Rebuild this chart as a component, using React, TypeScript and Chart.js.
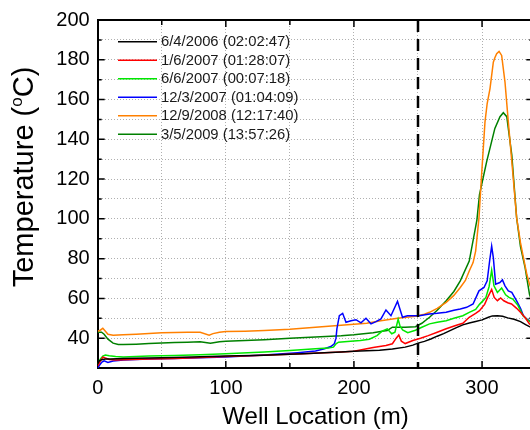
import React, { useEffect, useRef } from 'react';
import { Chart, registerables } from 'chart.js';

Chart.register(...registerables);

const FONT = '"Liberation Sans", Arial, Helvetica, sans-serif';

const seriesLabels = [
  '6/4/2006 (02:02:47)',
  '1/6/2007 (01:28:07)',
  '6/6/2007 (00:07:18)',
  '12/3/2007 (01:04:09)',
  '12/9/2008 (12:17:40)',
  '3/5/2009 (13:57:26)',
];
const seriesColors = ['#000000', '#ff0000', '#00e800', '#0000ff', '#ff8000', '#008000'];

const xTickLabels = [0, 100, 200, 300];
const yTickLabels = [40, 60, 80, 100, 120, 140, 160, 180, 200];
const markerLocation = 250;
const yTitleParts = ['Temperature (', 'o', 'C)'];
const xTitle = 'Well Location (m)';

const blackX = [0, 1, 3, 6, 10, 20, 40, 60, 80, 100, 130, 160, 190, 200, 210, 220, 230, 240, 246, 250, 255, 260, 265, 270, 275, 280, 285, 290, 295, 300, 305, 308, 312, 316, 320, 325, 330, 334, 337, 340];
const blackY = [27, 28.5, 29.2, 29.5, 29.5, 29.8, 30, 30.3, 30.6, 31, 31.4, 32.2, 33, 33.4, 33.7, 33.9, 34.5, 35.5, 36.5, 37.5, 38.4, 39.6, 41, 42.3, 43.8, 45.3, 46.7, 47.6, 48.4, 49.2, 50.5, 51.2, 51.3, 51, 50.2, 49.5, 48.3, 46.8, 45.8, 45];

const redX = [0, 2, 4, 6, 9, 14, 20, 40, 60, 80, 100, 130, 160, 190, 200, 215, 225, 230, 233, 235, 237, 240, 246, 252, 258, 265, 272, 280, 285, 290, 295, 298, 302, 305, 307.5, 309.5, 312, 314.5, 317, 320, 323, 327, 330, 334, 337, 340];
const redY = [26, 28.5, 30.5, 30, 29.3, 29, 29.2, 29.5, 29.8, 30.3, 30.8, 31.4, 32.2, 33, 33.4, 35.3, 36.3, 37.2, 40, 41.6, 38.5, 37.3, 38.8, 40, 41.3, 43, 44.7, 46.5, 47.5, 50.5, 52.5, 53.8, 57, 61.3, 64.5, 60.5, 58.8, 60.2, 58.8, 57.8, 57.2, 55, 53, 50, 47.2, 46];

const greenX = [0, 2, 4, 6, 9, 14, 20, 40, 60, 80, 100, 130, 150, 170, 180, 184, 186, 188, 195, 205, 212, 218, 222, 226, 229.5, 232, 234.5, 236, 238, 242, 248, 253, 259, 265, 272, 278, 285, 290, 295, 298, 301, 303, 305.5, 307.5, 309.3, 312, 315.3, 318.4, 321, 324, 328, 332, 335, 338, 340];
const greenY = [27, 29.5, 31, 31.5, 31.2, 30.8, 30.5, 31, 31.3, 31.7, 32.2, 33, 33.8, 34.7, 35, 35.5, 37.2, 38, 38.3, 38.8, 39.5, 41.3, 43.5, 44.7, 42.2, 43, 49.5, 46, 44.2, 42.8, 44, 45.5, 47.2, 48, 48.8, 50, 51.3, 53, 54.5, 57, 59, 60.5, 66, 74.2, 66.3, 63, 65.2, 61.8, 60.5, 59.7, 56.5, 51.3, 49.5, 48, 47.5];

const blueX = [0, 1.5, 3, 5, 8, 12, 20, 40, 60, 80, 100, 130, 156, 170, 177, 182, 184.7, 186, 186.7, 188.6, 191.2, 193.8, 197.7, 201.6, 205.5, 209.4, 213.3, 217.2, 221.1, 225, 228.9, 234, 237.9, 241.7, 245.6, 251, 259, 265, 272, 278, 283, 288, 293, 297.6, 301.5, 304, 305.9, 307.5, 308.8, 310.6, 313.9, 315.9, 317.9, 320.5, 323.2, 327, 330, 332.3, 335, 337, 340];
const blueY = [25, 26.5, 27.8, 28.6, 27.8, 28.5, 29, 29.5, 29.8, 30.1, 30.5, 31.5, 32.7, 33.5, 34.7, 35.8, 37.2, 40, 44.7, 51.3, 52.5, 48, 48.8, 49.3, 47.7, 50, 47.2, 48.3, 49.7, 54.2, 51.3, 58.5, 50.5, 51.3, 51.3, 51.3, 52.2, 52.5, 53, 54, 54.7, 55.5, 57.2, 63.8, 65.5, 68.8, 78.8, 86.3, 80.5, 67.2, 68, 69.3, 66.3, 63.8, 63, 58.8, 55, 51.3, 49.5, 48.8, 48];

const orangeX = [0, 2, 4, 6, 8, 12, 20, 30, 40, 50, 60, 70, 80, 87, 90, 95, 100, 115, 130, 150, 170, 185, 200, 210, 221, 234, 248, 255, 259, 265, 272, 278, 283, 287, 290, 293, 295, 297.6, 299.8, 302.3, 304, 306.2, 308.8, 310, 311.4, 313.3, 315.3, 317.9, 320.5, 323.9, 327, 330, 332.3, 335, 337, 340];
const orangeY = [43.5, 44, 45, 43.5, 42, 41.5, 41.7, 42, 42.3, 42.7, 42.8, 43, 43, 41.5, 42.3, 43, 43.3, 43.5, 43.9, 44.5, 45.5, 46.2, 47, 47.5, 48.8, 50, 51, 52, 53, 55, 58, 61.5, 65.5, 69, 73.8, 78, 83.8, 100.5, 123.8, 148.8, 158, 165.5, 178.8, 181, 183, 184.2, 182.2, 168.8, 148.8, 123.8, 100.5, 88, 80.5, 72, 67.2, 62];

const dgreenX = [0, 3, 5, 8, 12, 16, 20, 30, 40, 50, 60, 70, 80, 88, 95, 100, 115, 130, 150, 170, 190, 200, 215, 222, 226, 230, 240, 248, 253, 259, 265, 272, 278, 283, 290, 296, 298, 303.6, 310, 314, 316.6, 319.3, 323.2, 327, 330, 333.6, 337, 340];
const dgreenY = [43, 43, 42, 39.5, 37.5, 36.8, 36.8, 37, 37.3, 37.6, 37.8, 38, 38.2, 37.5, 38.2, 38.5, 38.8, 39.2, 40, 40.6, 41.2, 41.7, 42.7, 43.5, 43.8, 45.5, 45.5, 45.8, 47.5, 50.5, 54, 58.8, 63.5, 68.8, 78.8, 99.5, 112.2, 128.8, 145.5, 151.4, 153.4, 151.4, 132.2, 100.5, 86, 75.5, 62.2, 56];

const seriesX = [blackX, redX, greenX, blueX, orangeX, dgreenX];
const seriesY = [blackY, redY, greenY, blueY, orangeY, dgreenY];

const decorPlugin = {
  id: 'decor',
  afterDatasetsDraw(chart: any) {
    const { ctx, chartArea: a, scales } = chart;
    const xs = scales.x;
    const ys = scales.y;
    ctx.save();
    // dashed marker line
    const mx = xs.getPixelForValue(markerLocation);
    ctx.strokeStyle = '#000';
    ctx.lineWidth = 2.5;
    ctx.setLineDash([12, 7]);
    ctx.beginPath();
    ctx.moveTo(mx, a.top);
    ctx.lineTo(mx, a.bottom);
    ctx.stroke();
    ctx.setLineDash([]);

    // inward ticks
    ctx.lineWidth = 1.5;
    xs.ticks.forEach((t: any) => {
      const v = t.value;
      if (v % 50 !== 0 || v <= 0 || v >= xs.max) return;
      const px = xs.getPixelForValue(v);
      const len = v % 100 === 0 ? 7 : 5;
      ctx.beginPath();
      ctx.moveTo(px, a.bottom);
      ctx.lineTo(px, a.bottom - len);
      ctx.moveTo(px, a.top);
      ctx.lineTo(px, a.top + len);
      ctx.stroke();
    });
    ys.ticks.forEach((t: any) => {
      const v = t.value;
      if (v % 10 !== 0 || v <= ys.min || v >= ys.max) return;
      const py = ys.getPixelForValue(v);
      const len = v % 20 === 0 ? 7 : 4;
      ctx.beginPath();
      ctx.moveTo(a.left, py);
      ctx.lineTo(a.left + len, py);
      ctx.moveTo(a.right, py);
      ctx.lineTo(a.right - len, py);
      ctx.stroke();
    });

    // top & right frame
    ctx.lineWidth = 2;
    ctx.beginPath();
    ctx.moveTo(a.left, a.top);
    ctx.lineTo(a.right, a.top);
    ctx.lineTo(a.right, a.bottom);
    ctx.stroke();

    // legend
    ctx.font = `14.8px ${FONT}`;
    ctx.textBaseline = 'middle';
    ctx.textAlign = 'left';
    chart.data.datasets.forEach((ds: any, i: number) => {
      const y = 41.7 + i * 18.5;
      ctx.strokeStyle = ds.borderColor;
      ctx.lineWidth = 1.5;
      ctx.beginPath();
      ctx.moveTo(118, y);
      ctx.lineTo(157, y);
      ctx.stroke();
      ctx.fillStyle = '#1a1a1a';
      ctx.fillText(ds.label, 161, y + 0.5);
    });

    // y axis title with superscript
    const big = `29px ${FONT}`;
    const small = `17px ${FONT}`;
    ctx.font = big;
    const w0 = ctx.measureText(yTitleParts[0]).width;
    const w2 = ctx.measureText(yTitleParts[2]).width;
    ctx.font = small;
    const w1 = ctx.measureText(yTitleParts[1]).width;
    const total = w0 + w1 + w2;
    ctx.translate(25, 177);
    ctx.rotate(-Math.PI / 2);
    ctx.fillStyle = '#000';
    ctx.textBaseline = 'middle';
    ctx.textAlign = 'left';
    let cx = -total / 2;
    ctx.font = big;
    ctx.fillText(yTitleParts[0], cx, 0);
    cx += w0;
    ctx.font = small;
    ctx.fillText(yTitleParts[1], cx, -8);
    cx += w1;
    ctx.font = big;
    ctx.fillText(yTitleParts[2], cx, 0);
    ctx.restore();
  },
};

export default function App() {
  const ref = useRef<HTMLCanvasElement>(null);
  useEffect(() => {
    if (!ref.current) return;
    const datasets = seriesLabels.map((label, i) => ({
      label,
      data: seriesX[i].map((x, j) => ({ x, y: seriesY[i][j] })),
      borderColor: seriesColors[i],
      backgroundColor: seriesColors[i],
      borderWidth: 1.5,
      pointRadius: 0,
      tension: 0,
      fill: false,
    }));
    const chart = new Chart(ref.current, {
      type: 'line',
      data: { datasets },
      options: {
        responsive: false,
        animation: false,
        layout: { padding: { left: 0, right: 26.7, top: 18, bottom: 0 } },
        plugins: { legend: { display: false }, tooltip: { enabled: false } },
        scales: {
          x: {
            type: 'linear',
            min: 0,
            max: 340,
            afterFit: (s: any) => { s.height = 62; },
            ticks: {
              stepSize: 50,
              autoSkip: false,
              maxRotation: 0,
              padding: 8,
              color: '#000',
              font: { family: FONT, size: 20 },
              callback: (v: any) => (xTickLabels.includes(Number(v)) ? String(v) : ''),
            },
            grid: { color: '#b0b0b0', lineWidth: 1, drawTicks: false },
            border: { display: true, color: '#000', width: 2, dash: [1, 2] },
            title: {
              display: true,
              text: xTitle,
              color: '#000',
              font: { family: FONT, size: 24 },
              padding: { top: 0, bottom: -2 },
            },
          },
          y: {
            type: 'linear',
            min: 25,
            max: 200,
            afterFit: (s: any) => { s.width = 97.7; },
            ticks: {
              stepSize: 10,
              autoSkip: false,
              padding: 8,
              color: '#000',
              font: { family: FONT, size: 20 },
              callback: (v: any) => (yTickLabels.includes(Number(v)) ? String(v) : ''),
            },
            grid: { color: '#b0b0b0', lineWidth: 1, drawTicks: false },
            border: { display: true, color: '#000', width: 2, dash: [1, 2] },
          },
        },
      },
      plugins: [decorPlugin],
    });
    return () => chart.destroy();
  }, []);
  return (
    <div style={{ position: 'absolute', left: 0, top: 0, width: 530, height: 430, overflow: 'hidden', background: '#fff' }}>
      <canvas ref={ref} width={560} height={430} style={{ width: 560, height: 430, display: 'block' }} />
    </div>
  );
}
